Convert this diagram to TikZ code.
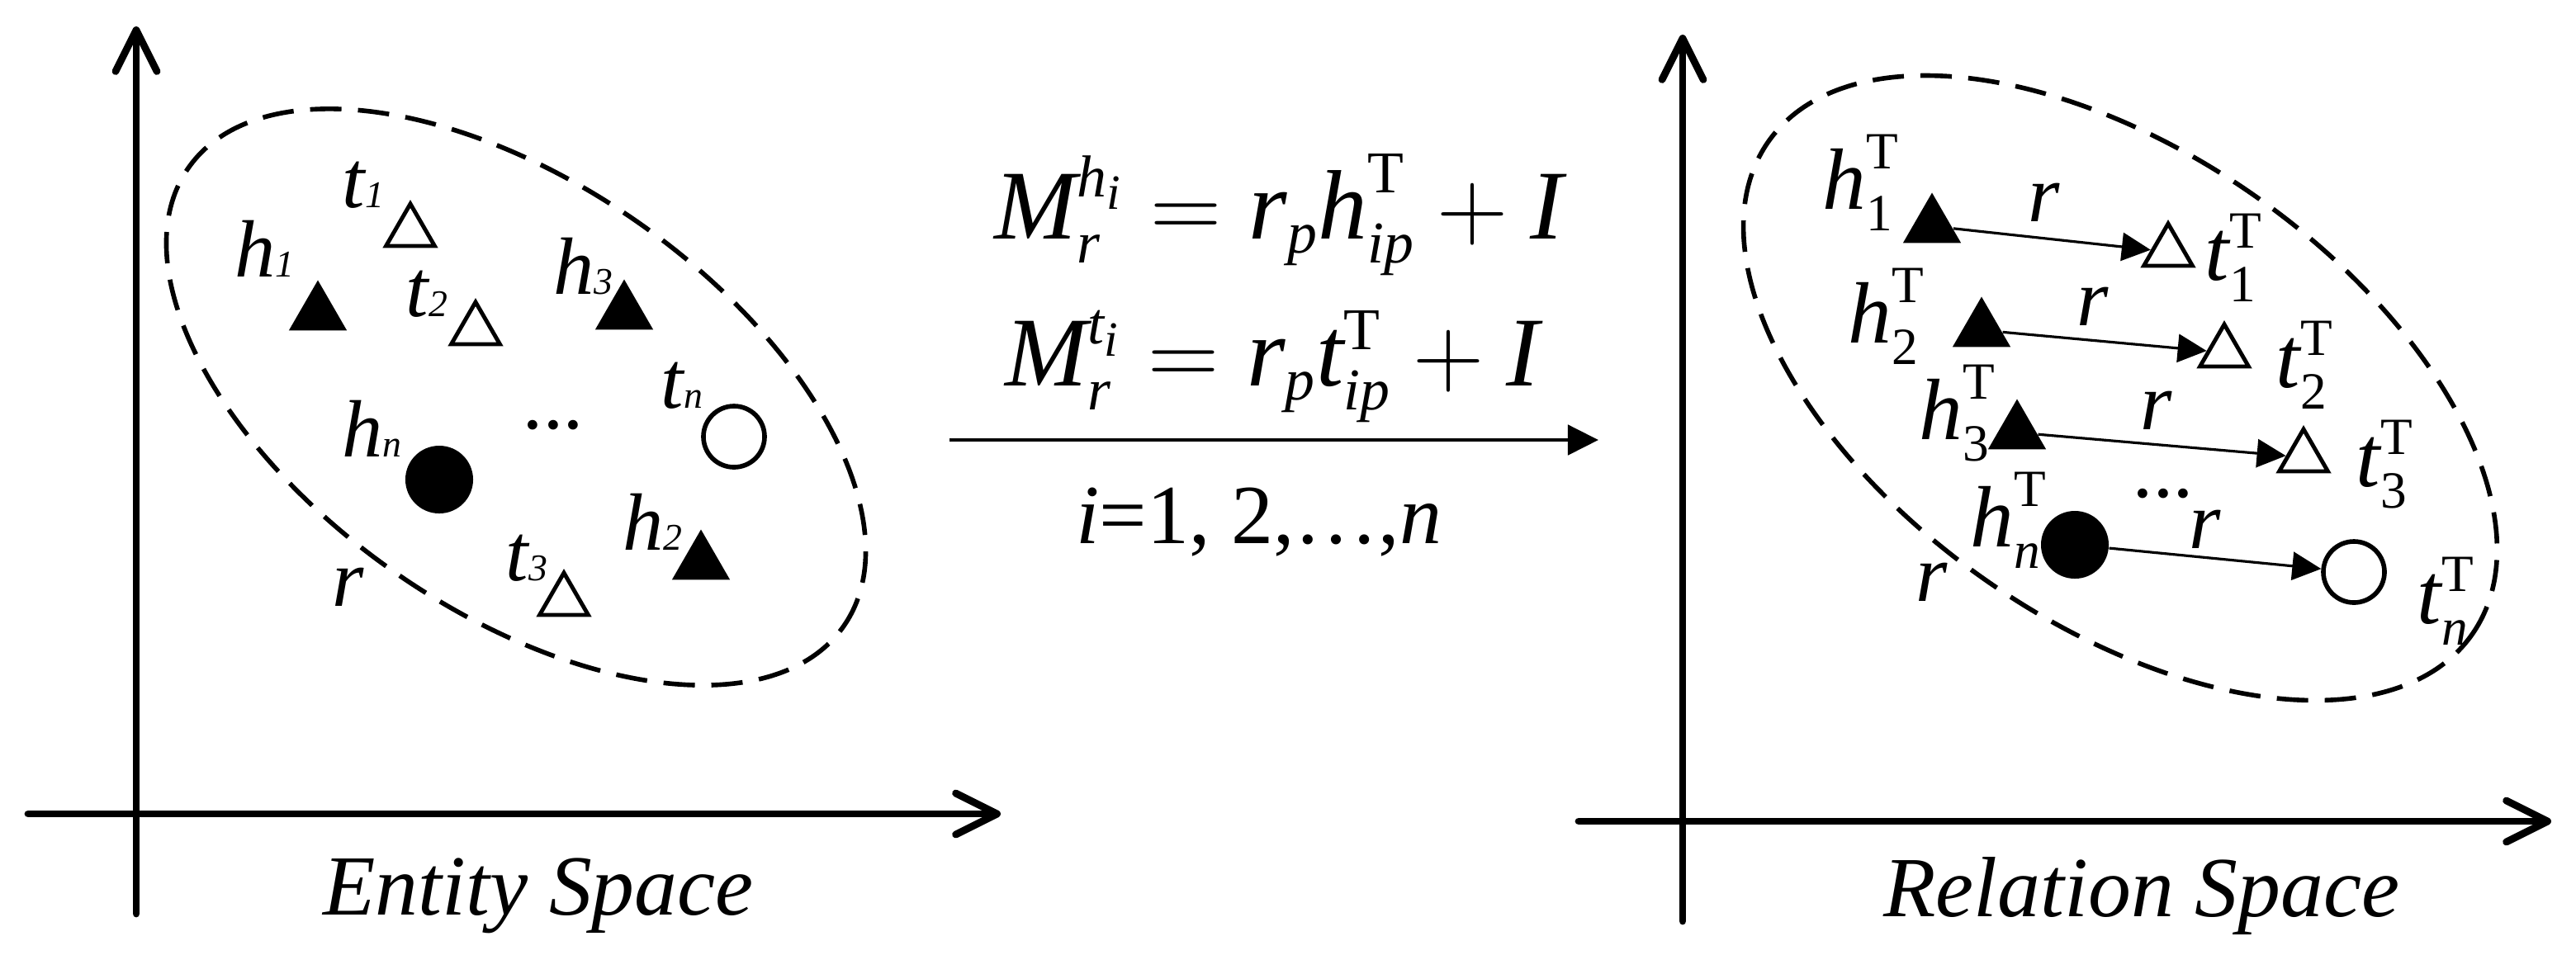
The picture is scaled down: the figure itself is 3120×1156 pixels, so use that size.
\RequirePackage{fix-cm}
\documentclass[tikz,border=0pt]{standalone}
\usepackage{amsmath}
\usepackage{fontspec}
\setmainfont{Liberation Serif}
\usetikzlibrary{arrows.meta,shapes.geometric}
\renewcommand{\defaultscriptratio}{.6}

% labels of the two spaces
\newcommand{\ent}[2]{\textit{#1\fontsize{13}{13}\selectfont#2}}
\newcommand{\prj}[2]{$\textit{#1}^{\text{T}}_{#2}$}

\tikzset{
  axis/.style={line width=2.5pt, line cap=round, -{Straight Barb[length=5mm,width=5mm,round]}},
  cluster/.style={line width=1.6pt, dash pattern=on 3.8mm off 2mm},
  headtri/.style={regular polygon, regular polygon sides=3, fill, inner sep=0pt, minimum size=8.1mm},
  tailtri/.style={regular polygon, regular polygon sides=3, draw, line width=1.4pt, inner sep=0pt, minimum size=6.8mm},
  headdot/.style={circle, fill, inner sep=0pt, minimum size=8.2mm},
  taildot/.style={circle, draw, line width=1.6pt, inner sep=0pt, minimum size=7.4mm},
  lbl/.style={inner sep=0pt, anchor=base west, font=\fontsize{28}{30}\selectfont\itshape},
  plbl/.style={inner sep=0pt, anchor=base west, font=\fontsize{30}{32}\selectfont},
  rel/.style={line width=0.9pt, -{Triangle[length=3.5mm,width=3.4mm]}},
  map/.style={line width=1.4pt, -{Triangle[length=3.7mm,width=3.6mm]}}
}

\begin{document}
\begin{tikzpicture}[x=0.01cm, y=-0.01cm]
\useasboundingbox (0,0) rectangle (3120,1156);

% entity space
\coordinate (ey0) at (165,1107);
\coordinate (ey1) at (165,32);
\coordinate (ex0) at (34,986);
\coordinate (ex1) at (1212,986);
\draw[axis] (ey0) -- (ey1);
\draw[axis] (ex0) -- (ex1);
\draw[cluster, rotate around={-35:(625,481)}] (625,481) ellipse [x radius=4.84cm, y radius=2.58cm];

\node[headtri] (h1) at (385,380) {};
\node[headtri] (h3) at (756,379) {};
\node[headtri] (h2) at (849,682) {};
\node[tailtri] (t1) at (497,281) {};
\node[tailtri] (t2) at (576,400) {};
\node[tailtri] (t3) at (683,728) {};
\node[headdot] (hn) at (532,581) {};
\node[taildot] (tn) at (889,529) {};

\node[lbl] (lt1) at (414,251) {\ent{t}{1}};
\node[lbl] (lh1) at (284,335) {\ent{h}{1}};
\node[lbl] (lt2) at (491,383) {\ent{t}{2}};
\node[lbl] (lh3) at (670,356) {\ent{h}{3}};
\node[lbl] (ltn) at (800,494) {\ent{t}{n}};
\node[lbl] (lhn) at (414,553) {\ent{h}{n}};
\node[lbl] (lh2) at (754,666) {\ent{h}{2}};
\node[lbl] (lt3) at (612,703) {\ent{t}{3}};
\node[lbl] (lr) at (402,734) {r};
\node[lbl] (ldots) at (635,519) {...};
\node[lbl, anchor=base] (ename) at (652,1108) {\fontsize{29.5}{31}\selectfont Entity Space};

% projection
\node[inner sep=0pt, anchor=base, font=\fontsize{34}{36}\selectfont] (eqh) at (1549,289)
  {$\textit{M}^{\textit{h}_{\textit{i}}}_{\textit{r}} = \textit{r}_{\textit{p}}\textit{h}^{\text{T}}_{\textit{ip}} + \textit{I}$};
\node[inner sep=0pt, anchor=base, font=\fontsize{34}{36}\selectfont] (eqt) at (1541,467)
  {$\textit{M}^{\textit{t}_{\textit{i}}}_{\textit{r}} = \textit{r}_{\textit{p}}\textit{t}^{\text{T}}_{\textit{ip}} + \textit{I}$};
\coordinate (m0) at (1150,533);
\coordinate (m1) at (1936,533);
\draw[map] (m0) -- (m1);
\node[inner sep=0pt, anchor=base, font=\fontsize{29}{31}\selectfont] (range) at (1525,658)
  {\textit{i}=1, 2,…,\textit{n}};

% relation space
\coordinate (ry0) at (2038,1116);
\coordinate (ry1) at (2038,42);
\coordinate (rx0) at (1912,995);
\coordinate (rx1) at (3090,995);
\draw[axis] (ry0) -- (ry1);
\draw[axis] (rx0) -- (rx1);
\draw[cluster, rotate around={-35:(2568,470)}] (2568,470) ellipse [x radius=5.2cm, y radius=2.84cm];

\node[headtri] (ph1) at (2340,274) {};
\node[headtri] (ph2) at (2400,400) {};
\node[headtri] (ph3) at (2443,524) {};
\node[headdot] (phn) at (2513,660) {};
\node[tailtri] (pt1) at (2626,305) {};
\node[tailtri] (pt2) at (2694,427) {};
\node[tailtri] (pt3) at (2790,554) {};
\node[taildot] (ptn) at (2851,693) {};

\draw[rel] (ph1) -- (pt1);
\draw[rel] (ph2) -- (pt2);
\draw[rel] (ph3) -- (pt3);
\draw[rel] (phn) -- (ptn);

\node[plbl] (lph1) at (2207,253) {\prj{h}{\text{1}}};
\node[plbl] (lph2) at (2238,415) {\prj{h}{\text{2}}};
\node[plbl] (lph3) at (2324,532) {\prj{h}{\text{3}}};
\node[plbl] (lphn) at (2386,662) {\prj{h}{\textit{n}}};
\node[plbl] (lpt1) at (2670,339) {\prj{t}{\text{1}}};
\node[plbl] (lpt2) at (2756,469) {\prj{t}{\text{2}}};
\node[plbl] (lpt3) at (2853,589) {\prj{t}{\text{3}}};
\node[plbl] (lptn) at (2927,755) {\prj{t}{\textit{n}}};
\node[lbl] (lr1) at (2456,268) {r};
\node[lbl] (lr2) at (2515,394) {r};
\node[lbl] (lr3) at (2592,520) {r};
\node[lbl] (lrn) at (2651,664) {r};
\node[lbl] (lpr) at (2320,728) {r};
\node[lbl] (lpdots) at (2585,602) {...};
\node[lbl, anchor=base] (rname) at (2594,1110) {\fontsize{29.5}{31}\selectfont Relation Space};
\end{tikzpicture}
\end{document}
